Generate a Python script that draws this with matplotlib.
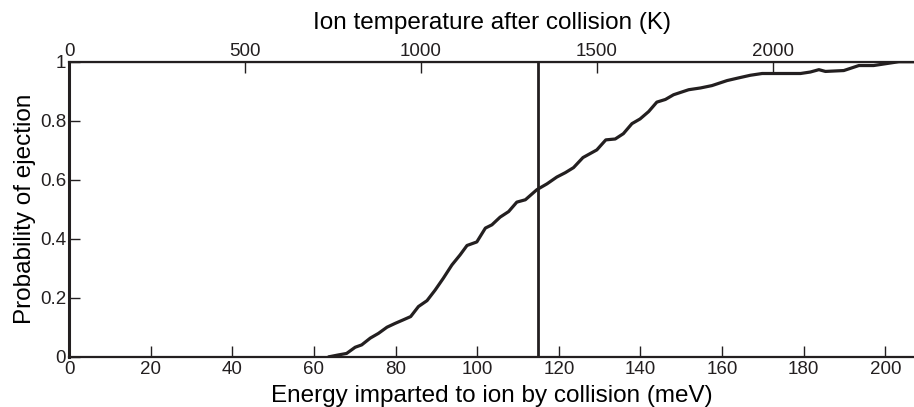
import numpy as np
import matplotlib.pyplot as plt

plt.rcParams['font.family'] = ['Liberation Sans', 'DejaVu Sans']

# energy (meV) vs probability of ejection
energy = [63.8, 66.0, 68.0, 70.1, 71.7, 73.8, 75.8, 77.9, 79.9, 81.9, 83.7,
          85.6, 87.7, 89.7, 91.7, 93.8, 95.8, 97.5, 99.9, 102.0, 103.6,
          105.6, 107.7, 109.7, 111.8, 114.6, 117.1, 119.5, 121.6, 123.6,
          125.9, 129.3, 131.5, 133.8, 135.8, 137.9, 139.9, 142.0, 144.0,
          146.1, 148.1, 151.8, 154.7, 157.5, 161.2, 164.0, 166.9, 169.8,
          179.2, 181.6, 183.7, 185.3, 189.8, 193.5, 197.1, 203.3, 207.0]
prob = [0.0, 0.006, 0.011, 0.032, 0.040, 0.063, 0.079, 0.100, 0.113, 0.125,
        0.136, 0.170, 0.190, 0.226, 0.266, 0.311, 0.345, 0.377, 0.389,
        0.436, 0.447, 0.473, 0.492, 0.524, 0.532, 0.566, 0.586, 0.609,
        0.624, 0.641, 0.675, 0.701, 0.735, 0.738, 0.756, 0.790, 0.806,
        0.831, 0.863, 0.872, 0.888, 0.905, 0.911, 0.919, 0.936, 0.945,
        0.954, 0.960, 0.960, 0.965, 0.973, 0.967, 0.970, 0.987, 0.987,
        1.0, 1.0]
threshold = 114.8  # meV, vertical marker

x_ticks = [0, 20, 40, 60, 80, 100, 120, 140, 160, 180, 200]
y_ticks = [0, 0.2, 0.4, 0.6, 0.8, 1]
temp_ticks = [0, 500, 1000, 1500, 2000]

K_B = 0.08617  # meV/K

INK = '#231f20'

fig = plt.figure(figsize=(9.14, 4.07), dpi=100)
ax = fig.add_axes([0.0755, 0.1236, 0.9245, 0.7248])

ax.plot(energy, prob, color=INK, lw=2.3, solid_joinstyle='round')
ax.axvline(threshold, color=INK, lw=2.0)

ax.set_xlim(0, 207)
ax.set_ylim(0, 1)
ax.set_xticks(x_ticks)
ax.set_yticks(y_ticks)
ax.set_yticklabels(['%g' % v for v in y_ticks])

for side in ['left', 'bottom', 'top']:
    ax.spines[side].set_linewidth(1.6)
    ax.spines[side].set_color(INK)
ax.spines['left'].set_linewidth(2.2)
ax.spines['right'].set_visible(False)

ax.tick_params(direction='in', length=8, width=1, labelsize=13.5,
               colors=INK, pad=2)
ax.tick_params(axis='x', pad=3)

ax.set_xlabel('Energy imparted to ion by collision (meV)', fontsize=17.5,
              color='black', labelpad=5)
ax.set_ylabel('Probability of ejection', fontsize=17.5, color='black',
              labelpad=3)

top = ax.secondary_xaxis('top', functions=(lambda e: e / K_B,
                                            lambda t: t * K_B))
top.set_xticks(temp_ticks)
top.tick_params(direction='in', length=8, width=1, labelsize=13.5,
                colors=INK, pad=1)
top.set_xlabel('Ion temperature after collision (K)', fontsize=17.5,
               color='black', labelpad=10)

plt.savefig('out.png', dpi=100)
